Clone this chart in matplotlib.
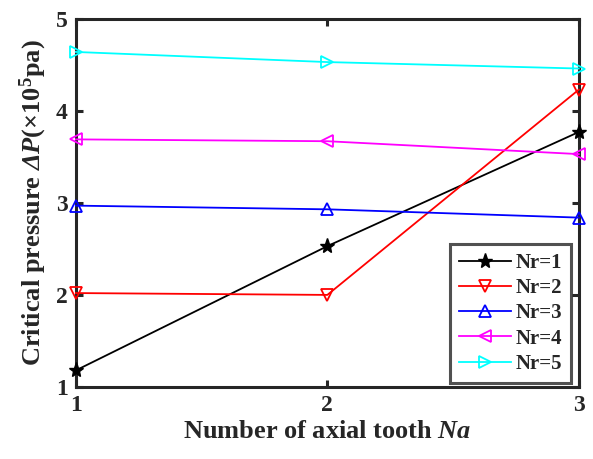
import numpy as np
import matplotlib
matplotlib.use('Agg')
import matplotlib.pyplot as plt

plt.rcParams['font.family'] = 'Liberation Serif'
plt.rcParams['font.weight'] = 'bold'
plt.rcParams['mathtext.fontset'] = 'custom'
plt.rcParams['mathtext.rm'] = 'Liberation Serif:bold'
plt.rcParams['mathtext.it'] = 'Liberation Serif:italic:bold'
plt.rcParams['mathtext.bf'] = 'Liberation Serif:bold'
# sf slot used for the italic capital Delta
plt.rcParams['mathtext.sf'] = 'Liberation Serif:italic:bold'

na = [1, 2, 3]
nr1 = [1.18, 2.53, 3.77]
nr2 = [2.02, 2.00, 4.23]
nr3 = [2.97, 2.93, 2.84]
nr4 = [3.69, 3.67, 3.53]
nr5 = [4.64, 4.53, 4.46]

series = [
    ('Nr=1', nr1, 'black', '*'),
    ('Nr=2', nr2, 'red', 'v'),
    ('Nr=3', nr3, 'blue', '^'),
    ('Nr=4', nr4, 'magenta', '<'),
    ('Nr=5', nr5, 'cyan', '>'),
]

fig = plt.figure(figsize=(5.93, 4.59), dpi=100)
ax = fig.add_axes([0.128, 0.157, 0.848, 0.802])

for name, vals, col, mk in series:
    if mk == '*':
        ax.plot(na, vals, color=col, marker=mk, markersize=11, linewidth=1.3,
                label=name, clip_on=False, zorder=3)
    else:
        ax.plot(na, vals, color=col, marker=mk, markersize=9, linewidth=1.3,
                markerfacecolor='none', markeredgewidth=1.3, label=name,
                clip_on=False, zorder=3)

ax.set_xlim(1, 3)
ax.set_ylim(1, 5)
ax.set_xticks([1, 2, 3])
ax.set_yticks([1, 2, 3, 4, 5])

edge = '#262626'
for s in ax.spines.values():
    s.set_linewidth(2.2)
    s.set_color(edge)
ax.tick_params(direction='in', top=True, right=True, length=5, width=2.2,
               color=edge, labelsize=17, pad=6, labelcolor=edge)

ax.set_xlabel('Number of axial tooth $\\mathit{Na}$', fontsize=19,
              fontweight='bold', color=edge, labelpad=3)
ax.set_ylabel('Critical pressure $\\mathsf{Δ}\\mathit{P}$(×10$^{5}$pa)',
              fontsize=19, fontweight='bold', color=edge, labelpad=5)

leg = ax.legend(loc='lower right', bbox_to_anchor=(0.985, 0.01), fontsize=15,
                frameon=True, fancybox=False, borderaxespad=0.0,
                handlelength=2.5, handletextpad=0.2, labelspacing=0.25,
                borderpad=0.45)
leg.get_frame().set_edgecolor(edge)
leg.get_frame().set_linewidth(2.2)
for t in leg.get_texts():
    t.set_fontweight('bold')
    t.set_color(edge)

fig.savefig('out.png', dpi=100)
